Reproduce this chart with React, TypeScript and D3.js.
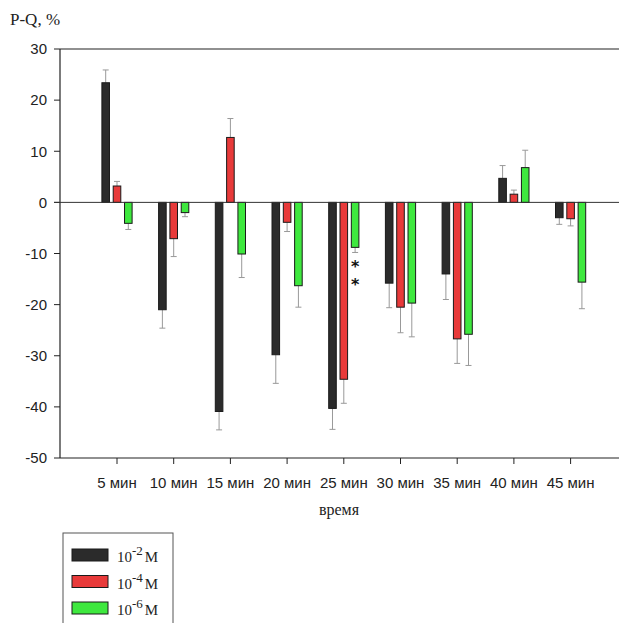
import * as d3 from 'd3';
import { useEffect, useRef } from 'react';

const width = 619;
const height = 623;

const categories = ['5 мин', '10 мин', '15 мин', '20 мин', '25 мин', '30 мин', '35 мин', '40 мин', '45 мин'];
const seriesNames = ['-2', '-4', '-6'];
const seriesColors = ['#2b2b2b', '#e83a3a', '#3ee83e'];

// mean values, %
const conc2 = [23.4, -21.0, -40.9, -29.8, -40.3, -15.8, -14.0, 4.7, -3.0];
const conc4 = [3.2, -7.1, 12.7, -3.9, -34.6, -20.5, -26.7, 1.6, -3.2];
const conc6 = [-4.1, -2.0, -10.1, -16.3, -8.8, -19.7, -25.8, 6.8, -15.6];

// error bars
const err2 = [2.5, 3.6, 3.6, 5.6, 4.1, 4.8, 5.0, 2.5, 1.3];
const err4 = [0.9, 3.5, 3.7, 1.8, 4.7, 5.0, 4.8, 0.8, 1.4];
const err6 = [1.2, 0.8, 4.6, 4.2, 1.0, 6.6, 6.1, 3.4, 5.2];

const yTicks = [30, 20, 10, 0, -10, -20, -30, -40, -50];

const sans = 'Liberation Sans, Arial, sans-serif';
const serif = 'Liberation Serif, Times New Roman, serif';

const App = () => {
  const svgRef = useRef<SVGSVGElement>(null);

  useEffect(() => {
    const svg = d3.select(svgRef.current);
    svg.selectAll('*').remove();

    const left = 60;
    const right = 619;
    const y = d3.scaleLinear().domain([-50, 30]).range([458, 49]);
    const x = d3.scalePoint<string>().domain(categories).range([117, 570.6]);
    const inner = d3.scaleBand<string>().domain(seriesNames).range([-15.1, 15.1]).paddingInner(0.33);

    const values = [conc2, conc4, conc6];
    const errors = [err2, err4, err6];

    // frame lines
    svg.append('line').attr('x1', left).attr('x2', right).attr('y1', y(30)).attr('y2', y(30))
      .attr('stroke', '#222').attr('stroke-width', 1.2);
    svg.append('line').attr('x1', left).attr('x2', right).attr('y1', y(-50)).attr('y2', y(-50))
      .attr('stroke', '#222').attr('stroke-width', 1.2);
    svg.append('line').attr('x1', left).attr('x2', left).attr('y1', y(30)).attr('y2', y(-50))
      .attr('stroke', '#222').attr('stroke-width', 1.2);

    // y ticks
    const yg = svg.append('g');
    yTicks.forEach((t) => {
      yg.append('line').attr('x1', left - 6).attr('x2', left).attr('y1', y(t)).attr('y2', y(t))
        .attr('stroke', '#222');
      yg.append('text').attr('x', left - 13).attr('y', y(t)).attr('dy', '0.35em')
        .attr('text-anchor', 'end').attr('font-family', sans)
        .attr('font-size', 15).attr('fill', '#222').text(t);
    });

    // x ticks
    categories.forEach((c) => {
      svg.append('line').attr('x1', x(c)!).attr('x2', x(c)!).attr('y1', y(-50)).attr('y2', y(-50) + 6)
        .attr('stroke', '#222');
      svg.append('text').attr('x', x(c)!).attr('y', 488).attr('text-anchor', 'middle')
        .attr('font-family', sans).attr('font-size', 15)
        .attr('fill', '#222').text(c);
    });

    // bars + error bars
    seriesNames.forEach((s, k) => {
      const g = svg.append('g');
      categories.forEach((c, i) => {
        const v = values[k][i];
        const e = errors[k][i];
        const bx = x(c)! + inner(s)!;
        const bw = inner.bandwidth();
        const cx = bx + bw / 2;
        const end = v >= 0 ? v + e : v - e;
        g.append('line').attr('x1', cx).attr('x2', cx).attr('y1', y(v)).attr('y2', y(end))
          .attr('stroke', '#999').attr('stroke-width', 1);
        g.append('line').attr('x1', cx - 3).attr('x2', cx + 3).attr('y1', y(end)).attr('y2', y(end))
          .attr('stroke', '#999').attr('stroke-width', 1);
        g.append('rect').attr('x', bx).attr('width', bw)
          .attr('y', y(Math.max(0, v))).attr('height', Math.abs(y(v) - y(0)))
          .attr('fill', seriesColors[k]).attr('stroke', '#1a1a1a').attr('stroke-width', 1);
      });
    });

    // zero line
    svg.append('line').attr('x1', left - 6).attr('x2', right).attr('y1', y(0)).attr('y2', y(0))
      .attr('stroke', '#333').attr('stroke-width', 1);

    // significance marks on 25 min, 10^-6 (two stacked asterisks)
    const ax = x('25 мин')! + inner('-6')! + inner.bandwidth() / 2;
    [271.6, 290.4].forEach((by) => {
      svg.append('text').attr('x', ax).attr('y', by).attr('text-anchor', 'middle')
        .attr('font-family', 'DejaVu Sans, sans-serif').attr('font-weight', 'bold')
        .attr('font-size', 16).attr('fill', '#111')
        .text('*');
    });

    // axis titles
    svg.append('text').attr('x', 10).attr('y', 25).attr('font-family', serif)
      .attr('font-size', 17).attr('fill', '#222').text('P-Q, %');
    svg.append('text').attr('x', 339).attr('y', 515).attr('text-anchor', 'middle')
      .attr('font-family', serif)
      .attr('font-size', 16).attr('fill', '#222').text('время');

    // legend
    const lg = svg.append('g');
    lg.append('rect').attr('x', 63).attr('y', 533).attr('width', 110).attr('height', 100)
      .attr('fill', 'white').attr('stroke', '#555').attr('stroke-width', 1);
    seriesNames.forEach((s, k) => {
      const top = 549 + k * 26.5;
      lg.append('rect').attr('x', 72).attr('y', top).attr('width', 36).attr('height', 12)
        .attr('fill', seriesColors[k]).attr('stroke', '#1a1a1a').attr('stroke-width', 1);
      const t = lg.append('text').attr('x', 117).attr('y', top + 13)
        .attr('font-family', serif).attr('font-size', 15)
        .attr('fill', '#222');
      t.append('tspan').text('10');
      t.append('tspan').attr('dy', -7).attr('font-size', 13).text(s);
      t.append('tspan').attr('dy', 7).attr('dx', 2).text('М');
    });
  }, []);

  return <svg ref={svgRef} width={width} height={height} style={{ display: 'block', position: 'absolute', left: 0, top: 0 }}></svg>;
};

export default App;
